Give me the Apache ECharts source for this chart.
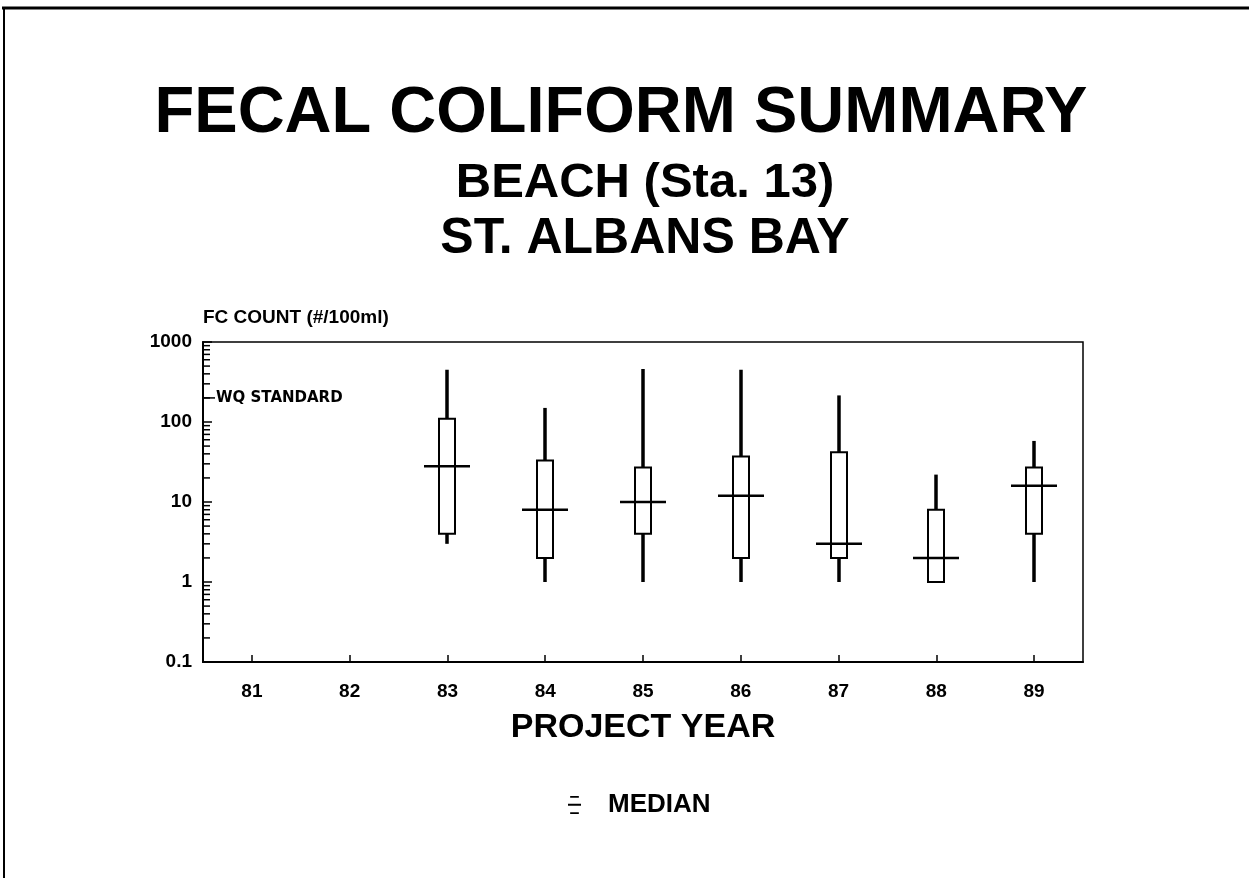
<!DOCTYPE html>
<html>
<head>
<meta charset="utf-8">
<script src="https://cdn.jsdelivr.net/npm/echarts@6/dist/echarts.min.js"></script>
<style>
  html, body { margin: 0; padding: 0; background: #fff; }
  #chart { width: 1249px; height: 878px; }
</style>
</head>
<body>
<div id="chart"></div>
<script>
// Project years on the category axis
const years = ['81', '82', '83', '84', '85', '86', '87', '88', '89'];
// Per-year summary of fecal coliform counts (#/100ml); null = no samples that year
const minVals    = [null, null, 3, 1, 1, 1, 1, 1, 1];
const q1Vals     = [null, null, 4, 2, 4, 2, 2, 1, 4];
const medianVals = [null, null, 28, 8, 10, 12, 3, 2, 16];
const q3Vals     = [null, null, 110, 33, 27, 37, 42, 8, 27];
const maxVals    = [null, null, 450, 150, 460, 450, 215, 22, 58];
// Log axis decade labels
const yTickLabels = { '0.1': '0.1', '1': '1', '10': '10', '100': '100', '1000': '1000' };
// Water-quality standard
const wqStandard = 200;
// Minor tick multipliers inside each decade
const decades = [0.1, 1, 10, 100];
const minorMultipliers = [2, 3, 4, 5, 6, 7, 8, 9];

const FONT = '"Liberation Sans", Arial, Helvetica, sans-serif';
const WIDE = '"DejaVu Sans", "Liberation Sans", sans-serif';

const boxData = [];
years.forEach((y, i) => {
  if (medianVals[i] != null) {
    boxData.push([i, minVals[i], q1Vals[i], medianVals[i], q3Vals[i], maxVals[i]]);
  }
});

const minorTickData = [];
decades.forEach(d => minorMultipliers.forEach(m => minorTickData.push([0, +(d * m).toPrecision(3)])));

function renderBox(params, api) {
  const xi = api.value(0);
  const lo = api.coord([xi, api.value(1)]);
  const b1 = api.coord([xi, api.value(2)]);
  const md = api.coord([xi, api.value(3)]);
  const b3 = api.coord([xi, api.value(4)]);
  const hi = api.coord([xi, api.value(5)]);
  const x = Math.round(lo[0]);
  const bw = 16, mw = 46;
  return {
    type: 'group',
    children: [
      { type: 'line', shape: { x1: x, y1: b3[1], x2: x, y2: hi[1] }, style: { stroke: '#000', lineWidth: 3.5 } },
      { type: 'line', shape: { x1: x, y1: lo[1], x2: x, y2: b1[1] }, style: { stroke: '#000', lineWidth: 3.5 } },
      { type: 'rect', shape: { x: x - bw / 2, y: b3[1], width: bw, height: b1[1] - b3[1] },
        style: { fill: '#fff', stroke: '#000', lineWidth: 2 } },
      { type: 'line', shape: { x1: x - mw / 2, y1: md[1], x2: x + mw / 2, y2: md[1] },
        style: { stroke: '#000', lineWidth: 2.5 } }
    ]
  };
}

function renderMinorTick(params, api) {
  const y = api.coord([0, api.value(1)])[1];
  const x0 = params.coordSys.x;
  return { type: 'line', shape: { x1: x0, y1: y, x2: x0 + 7, y2: y }, style: { stroke: '#000', lineWidth: 1.5 } };
}

function renderStandard(params, api) {
  const y = api.coord([0, api.value(1)])[1];
  const x0 = params.coordSys.x;
  return {
    type: 'group',
    children: [
      { type: 'line', shape: { x1: x0, y1: y, x2: x0 + 12, y2: y }, style: { stroke: '#000', lineWidth: 1.5 } },
      { type: 'text', x: x0 + 13, y: y,
        style: { text: 'WQ STANDARD', fill: '#000', font: 'bold 15px ' + WIDE, verticalAlign: 'middle', align: 'left' } }
    ]
  };
}

const chart = echarts.init(document.getElementById('chart'), null, { renderer: 'canvas' });
chart.setOption({
  backgroundColor: '#fff',
  animation: false,
  title: [
    { text: 'FECAL COLIFORM SUMMARY', left: 621, top: 82, textAlign: 'center', padding: 0,
      textStyle: { fontFamily: FONT, fontSize: 65, fontWeight: 'bold', color: '#000' } },
    { text: 'BEACH (Sta. 13)', left: 645, top: 159, textAlign: 'center', padding: 0,
      textStyle: { fontFamily: FONT, fontSize: 49, fontWeight: 'bold', color: '#000' } },
    { text: 'ST. ALBANS BAY', left: 645, top: 214, textAlign: 'center', padding: 0,
      textStyle: { fontFamily: FONT, fontSize: 50, fontWeight: 'bold', color: '#000' } }
  ],
  legend: {
    data: [{ name: 'MEDIAN', icon: 'path://M2,0H10V1.5H2Z M0,7H12V9H0Z M2,15H10V16.5H2Z' }],
    left: 563, top: 787, itemWidth: 13, itemHeight: 26, selectedMode: false,
    textStyle: { fontFamily: FONT, fontSize: 26, fontWeight: 'bold', color: '#000', padding: [0, 0, 0, 22] }
  },
  grid: {
    left: 203, right: 166, top: 342, bottom: 216,
    show: true, borderColor: '#000', borderWidth: 1.5, backgroundColor: 'transparent',
    containLabel: false, outerBoundsMode: 'none'
  },
  xAxis: {
    type: 'category',
    data: years,
    boundaryGap: true,
    name: 'PROJECT YEAR',
    nameLocation: 'middle',
    nameGap: 49,
    nameTextStyle: { fontFamily: FONT, fontSize: 34, fontWeight: 'bold', color: '#000' },
    axisLine: { lineStyle: { color: '#000', width: 2 } },
    axisTick: { show: true, inside: true, alignWithLabel: true, length: 7, lineStyle: { color: '#000', width: 1.5 } },
    axisLabel: { fontFamily: FONT, fontSize: 19, fontWeight: 'bold', color: '#000', margin: 20, interval: 0 },
    splitLine: { show: false }
  },
  yAxis: {
    type: 'log',
    logBase: 10,
    min: 0.1,
    max: 1000,
    splitNumber: 4,
    name: 'FC COUNT (#/100ml)',
    nameLocation: 'end',
    nameGap: 24,
    nameTextStyle: { fontFamily: FONT, fontSize: 19, fontWeight: 'bold', color: '#000', align: 'left', verticalAlign: 'middle' },
    axisLine: { show: true, lineStyle: { color: '#000', width: 2 } },
    axisTick: { show: true, inside: true, length: 9, lineStyle: { color: '#000', width: 1.5 } },
    axisLabel: {
      fontFamily: FONT, fontSize: 19, fontWeight: 'bold', color: '#000', margin: 11,
      formatter: v => yTickLabels[String(+v.toPrecision(3))] || ''
    },
    splitLine: { show: false }
  },
  series: [
    {
      name: 'minor ticks', type: 'custom', silent: true, z: 3,
      data: minorTickData, encode: { x: 0, y: 1 }, renderItem: renderMinorTick
    },
    {
      name: 'WQ STANDARD', type: 'custom', silent: true, z: 3,
      data: [[0, wqStandard]], encode: { x: 0, y: 1 }, renderItem: renderStandard
    },
    {
      name: 'MEDIAN', type: 'custom', z: 4,
      itemStyle: { color: '#000' },
      data: boxData, encode: { x: 0, y: [1, 2, 3, 4, 5] }, renderItem: renderBox
    }
  ],
  graphic: [
    { type: 'line', shape: { x1: 2, y1: 8, x2: 1249, y2: 8 }, style: { stroke: '#000', lineWidth: 3 } },
    { type: 'line', shape: { x1: 4, y1: 8, x2: 4, y2: 878 }, style: { stroke: '#000', lineWidth: 2 } }
  ]
});
</script>
</body>
</html>
